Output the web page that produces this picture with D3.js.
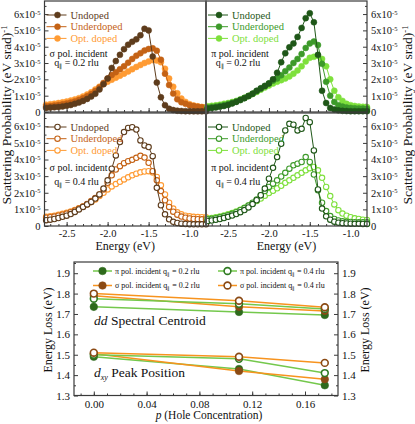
<!DOCTYPE html>
<html>
<head>
<meta charset="utf-8">
<script src="https://cdn.jsdelivr.net/npm/d3@7"></script>
<style>
body{margin:0;background:#fff;}
svg text{font-family:"Liberation Serif","Times New Roman",serif;}
</style>
</head>
<body>
<script>
// energy grid of the spectra (eV)
var energy = [-2.75,-2.70,-2.65,-2.60,-2.55,-2.50,-2.45,-2.40,-2.35,-2.30,-2.25,-2.20,-2.15,-2.10,-2.05,-2.00,-1.95,-1.90,-1.85,-1.80,
              -1.75,-1.70,-1.65,-1.60,-1.55,-1.50,-1.45,-1.40,-1.35,-1.30,-1.25,-1.20,-1.15,-1.10,-1.05,-1.00,-0.95,-0.90,-0.85,-0.80];

// scattering probability, units of 1e-5 (eV srad)^-1
var sigmaQ02Undoped = [0.25,0.27,0.29,0.31,0.34,0.38,0.43,0.50,0.58,0.68,0.80,0.95,1.12,1.38,1.70,2.05,2.70,3.12,3.50,3.85,
                       4.12,4.30,4.45,4.70,5.10,5.00,3.40,1.80,0.90,0.42,0.20,0.12,0.08,0.06,0.05,0.05,0.04,0.04,0.04,0.04];
var sigmaQ02Under   = [0.35,0.37,0.40,0.43,0.47,0.52,0.58,0.65,0.74,0.84,0.96,1.10,1.28,1.50,1.78,2.05,2.27,2.44,2.62,2.80,
                       3.02,3.25,3.45,3.60,3.76,3.86,3.90,3.75,3.20,2.35,1.65,1.13,0.78,0.60,0.50,0.42,0.36,0.32,0.29,0.27];
var sigmaQ02Opt     = [0.45,0.48,0.51,0.55,0.59,0.64,0.70,0.77,0.85,0.95,1.07,1.21,1.38,1.55,1.72,1.86,1.98,2.10,2.22,2.35,
                       2.48,2.62,2.76,2.88,3.00,3.10,3.18,3.15,3.05,2.65,2.05,1.55,1.15,0.82,0.62,0.48,0.40,0.35,0.31,0.29];

var piQ02Undoped = [0.22,0.25,0.28,0.32,0.37,0.43,0.52,0.62,0.73,0.85,0.98,1.12,1.30,1.45,1.60,1.75,2.00,2.40,3.05,3.60,
                    3.96,4.20,4.60,5.15,5.75,6.05,5.50,3.50,1.30,0.55,0.25,0.15,0.10,0.07,0.06,0.05,0.05,0.05,0.05,0.05];
var piQ02Under   = [0.28,0.31,0.34,0.38,0.43,0.49,0.56,0.65,0.75,0.86,0.98,1.12,1.27,1.42,1.58,1.75,1.92,2.05,2.25,2.50,
                    2.72,3.00,3.25,3.55,3.92,4.20,4.32,4.10,2.95,1.85,1.00,0.62,0.42,0.33,0.28,0.25,0.23,0.22,0.21,0.20];
var piQ02Opt     = [0.35,0.38,0.41,0.45,0.50,0.55,0.61,0.68,0.77,0.87,0.98,1.10,1.23,1.37,1.50,1.62,1.74,1.85,1.95,2.05,
                    2.18,2.35,2.55,2.80,3.10,3.32,3.38,3.45,3.25,2.80,2.00,1.30,0.90,0.68,0.50,0.42,0.37,0.34,0.32,0.30];

var sigmaQ04Undoped = [0.35,0.38,0.42,0.48,0.55,0.62,0.72,0.85,1.00,1.15,1.30,1.45,1.65,1.90,2.25,2.75,3.45,4.25,5.05,5.65,
                       5.90,5.95,5.80,5.15,4.85,4.75,4.20,2.30,1.25,0.70,0.40,0.25,0.18,0.14,0.12,0.11,0.10,0.10,0.10,0.10];
var sigmaQ04Under   = [0.50,0.53,0.57,0.62,0.68,0.75,0.83,0.93,1.05,1.18,1.33,1.50,1.68,1.90,2.20,2.60,3.05,3.40,3.60,3.78,
                       3.90,3.98,4.10,4.22,4.12,3.80,3.30,2.75,2.10,1.55,1.15,0.86,0.68,0.57,0.50,0.45,0.42,0.41,0.40,0.40];
var sigmaQ04Opt     = [0.55,0.58,0.62,0.67,0.73,0.80,0.88,0.97,1.07,1.18,1.30,1.45,1.60,1.80,2.00,2.20,2.38,2.52,2.66,2.80,
                       2.93,3.05,3.15,3.23,3.28,3.30,3.22,2.95,2.45,1.90,1.40,1.05,0.82,0.70,0.62,0.58,0.55,0.54,0.53,0.52];

var piQ04Undoped = [0.30,0.33,0.37,0.42,0.48,0.55,0.63,0.72,0.83,0.96,1.12,1.32,1.55,1.85,2.25,2.85,3.50,4.15,4.95,5.75,
                    6.15,6.10,5.75,5.85,6.50,6.25,4.55,2.20,1.05,0.58,0.38,0.26,0.20,0.17,0.15,0.14,0.13,0.13,0.12,0.12];
var piQ04Under   = [0.40,0.43,0.47,0.52,0.58,0.65,0.73,0.83,0.95,1.08,1.23,1.40,1.60,1.85,2.10,2.35,2.55,2.75,2.98,3.20,
                    3.45,3.65,3.75,3.85,4.15,3.85,3.10,2.15,1.40,0.90,0.60,0.42,0.33,0.28,0.25,0.24,0.23,0.22,0.22,0.22];
var piQ04Opt     = [0.45,0.48,0.52,0.57,0.63,0.70,0.78,0.88,0.98,1.10,1.23,1.36,1.50,1.65,1.82,1.98,2.12,2.27,2.42,2.60,
                    2.75,2.90,3.05,3.20,3.35,3.48,3.55,3.35,2.90,2.35,1.80,1.30,0.95,0.75,0.62,0.53,0.46,0.42,0.38,0.36];

var sampleNames = ["Undoped","Underdoped","Opt. doped"];
var energyTicks = [-2.5,-2.0,-1.5,-1.0];
var probTicks = [0,1,2,3,4,5,6];

// lower chart: hole concentration vs energy loss
var doping = [0.00, 0.11, 0.175];
var centroidPiQ02    = [1.735, 1.71, 1.695];
var centroidSigmaQ02 = [1.79, 1.735, 1.715];
var centroidPiQ04    = [1.775, 1.75, 1.725];
var centroidSigmaQ04 = [1.80, 1.765, 1.733];
var peakPiQ02    = [1.49, 1.43, 1.35];
var peakSigmaQ02 = [1.505, 1.42, 1.38];
var peakPiQ04    = [1.50, 1.48, 1.41];
var peakSigmaQ04 = [1.51, 1.49, 1.46];
var dopingTicks = [0, 0.04, 0.08, 0.12, 0.16];
var lossTicks = [1.3,1.4,1.5,1.6,1.7,1.8,1.9];

var sigmaColors = ["#5e3c1c","#c46215","#ff9b33"];
var piColors = ["#1f5718","#3d9a2a","#7ee03c"];
var frameColor = "#3a3a3a";

var svg = d3.select("body").append("svg")
	.attr("width",415)
	.attr("height",424);

svg.append("rect").attr("width",415).attr("height",424).attr("fill","#fff");

function minorList(a,b,step){
	var out = [];
	for(var v=a; v<=b+1e-9; v+=step) out.push(+v.toFixed(4));
	return out;
}

function sciLabels(g){
	g.selectAll(".tick text").each(function(d){
		var t = d3.select(this);
		t.text(null);
		if(d===0){ t.text("0"); return; }
		t.append("tspan").text(d+"x10");
		t.append("tspan").attr("dy","-0.5em").attr("font-size","6.5px").text("-5");
	});
}

function addQ(text, before, q, size){
	text.append("tspan").text(before+"q");
	text.append("tspan").attr("dy",2).attr("font-size",(size*0.6)+"px").text("\u2225");
	text.append("tspan").attr("dy",-2).text(" = "+q+" rlu");
}

var panels = [
	{x:[44.5,206], y:[112,1],   pol:"\u03c3", q:"0.2", data:[sigmaQ02Undoped,sigmaQ02Under,sigmaQ02Opt], colors:sigmaColors, open:false, side:"left",  xlab:false, cap:[53,62.5]},
	{x:[206,367],  y:[112,1],   pol:"\u03c0", q:"0.2", data:[piQ02Undoped,piQ02Under,piQ02Opt],          colors:piColors,    open:false, side:"right", xlab:false, cap:[53,62.5]},
	{x:[44.5,206], y:[226,113], pol:"\u03c3", q:"0.4", data:[sigmaQ04Undoped,sigmaQ04Under,sigmaQ04Opt], colors:sigmaColors, open:true,  side:"left",  xlab:true,  cap:[167,181]},
	{x:[206,367],  y:[226,113], pol:"\u03c0", q:"0.4", data:[piQ04Undoped,piQ04Under,piQ04Opt],          colors:piColors,    open:true,  side:"right", xlab:true,  cap:[167,181]}
];

panels.forEach(function(p){
	var x = d3.scaleLinear().domain([-2.77,-0.80]).range(p.x);
	var y = d3.scaleLinear().domain([0,6.8]).range(p.y);
	var g = svg.append("g");

	// x ticks (inward)
	var xa = g.append("g").attr("transform","translate(0,"+p.y[0]+")")
		.call(d3.axisBottom(x).tickValues(energyTicks).tickSize(-4).tickPadding(4)
			.tickFormat(function(d){ return p.xlab ? d.toFixed(1) : ""; }));
	xa.select(".domain").remove();
	xa.selectAll("text").attr("font-size","10.5px").attr("fill","#111");
	var xm = g.append("g").attr("transform","translate(0,"+p.y[0]+")")
		.call(d3.axisBottom(x).tickValues(minorList(-2.7,-0.9,0.1)).tickSize(-2).tickFormat(""));
	xm.select(".domain").remove();

	// y ticks on the outer side
	var ax = p.side==="left" ? d3.axisLeft(y) : d3.axisRight(y);
	var ya = g.append("g").attr("transform","translate("+(p.side==="left"?p.x[0]:p.x[1])+",0)")
		.call(ax.tickValues(probTicks).tickSize(-4).tickPadding(4));
	ya.select(".domain").remove();
	ya.selectAll("text").attr("font-size","10.5px").attr("fill","#111");
	sciLabels(ya);
	var ax2 = p.side==="left" ? d3.axisLeft(y) : d3.axisRight(y);
	var ym = g.append("g").attr("transform","translate("+(p.side==="left"?p.x[0]:p.x[1])+",0)")
		.call(ax2.tickValues(minorList(0.5,6.5,1)).tickSize(-2).tickFormat(""));
	ym.select(".domain").remove();
	g.selectAll(".tick line").attr("stroke",frameColor);

	// spectra, opt doped first so undoped sits on top
	var line = d3.line().x(function(d,i){ return x(energy[i]); }).y(function(d){ return y(d); });
	[2,1,0].forEach(function(k){
		g.append("path").datum(p.data[k])
			.attr("d",line).attr("fill","none")
			.attr("stroke",p.colors[k]).attr("stroke-width",1);
		g.selectAll("circle.s"+k)
			.data(p.data[k])
			.enter().append("circle")
				.attr("class","s"+k)
				.attr("cx",function(d,i){ return x(energy[i]); })
				.attr("cy",function(d){ return y(d); })
				.attr("r",p.open ? 2.7 : 3.0)
				.attr("fill",p.open ? "#fff" : p.colors[k])
				.attr("stroke",p.colors[k])
				.attr("stroke-width",p.open ? 1.1 : 0.5);
	});

	// legend
	var top = p.y[1];
	sampleNames.forEach(function(name,k){
		var ly = top + 14 + 11.7*k;
		g.append("line").attr("x1",p.x[0]+2).attr("x2",p.x[0]+22).attr("y1",ly).attr("y2",ly)
			.attr("stroke",p.colors[k]).attr("stroke-width",1);
		g.append("circle").attr("cx",p.x[0]+13).attr("cy",ly).attr("r",p.open?2.7:3.0)
			.attr("fill",p.open?"#fff":p.colors[k]).attr("stroke",p.colors[k]).attr("stroke-width",p.open?1.1:0.5);
		g.append("text").attr("x",p.x[0]+26).attr("y",ly).attr("dy","0.35em")
			.attr("font-size","10.5px").attr("fill",p.colors[k]).text(name);
	});
	g.append("text").attr("x",p.x[0]+34).attr("y",p.cap[0]).attr("dy","0.35em")
		.attr("text-anchor","middle").attr("font-size","10px").attr("fill","#111")
		.text(p.pol+" pol. incident");
	var qt = g.append("text").attr("x",p.x[0]+32).attr("y",p.cap[1]).attr("dy","0.35em")
		.attr("text-anchor","middle").attr("font-size","10px").attr("fill","#111");
	addQ(qt,"",p.q,10);

	g.append("rect").attr("x",p.x[0]).attr("y",p.y[1]).attr("width",p.x[1]-p.x[0]).attr("height",p.y[0]-p.y[1])
		.attr("fill","none").attr("stroke",frameColor).attr("stroke-width",1.2);

	if(p.xlab){
		g.append("text").attr("x",(p.x[0]+p.x[1])/2).attr("y",250)
			.attr("text-anchor","middle").attr("font-size","12px").attr("fill","#111").text("Energy (eV)");
	}
});

// divider between sigma and pi panels
svg.append("line").attr("x1",206).attr("x2",206).attr("y1",1).attr("y2",226)
	.attr("stroke","#555").attr("stroke-width",2);

// y titles of the spectra
[[11,115],[412,115]].forEach(function(pos){
	var t = svg.append("text")
		.attr("transform","translate("+pos[0]+","+pos[1]+") rotate(-90)")
		.attr("text-anchor","middle").attr("font-size","13.5px").attr("fill","#111");
	t.append("tspan").text("Scattering Probability (eV srad)");
	t.append("tspan").attr("dy","-0.45em").attr("font-size","8.5px").text("-1");
});

// ---- lower chart ----
var bx = d3.scaleLinear().domain([-0.015,0.185]).range([74,338]);
var by = d3.scaleLinear().domain([1.3,1.955]).range([395.5,262]);
var b = svg.append("g");

var bxa = b.append("g").attr("transform","translate(0,395.5)")
	.call(d3.axisBottom(bx).tickValues(dopingTicks).tickSize(-4).tickPadding(5)
		.tickFormat(function(d){ return d.toFixed(2); }));
bxa.select(".domain").remove();
var bxm = b.append("g").attr("transform","translate(0,395.5)")
	.call(d3.axisBottom(bx).tickValues(minorList(-0.01,0.18,0.01)).tickSize(-2).tickFormat(""));
bxm.select(".domain").remove();

var bya = b.append("g").attr("transform","translate(74,0)")
	.call(d3.axisLeft(by).tickValues(lossTicks).tickSize(-4).tickPadding(4)
		.tickFormat(function(d){ return d.toFixed(1); }));
bya.select(".domain").remove();
var byr = b.append("g").attr("transform","translate(338,0)")
	.call(d3.axisRight(by).tickValues(lossTicks).tickSize(-4).tickPadding(4)
		.tickFormat(function(d){ return d.toFixed(1); }));
byr.select(".domain").remove();
b.selectAll("text").attr("font-size","11px").attr("fill","#111");
[74,338].forEach(function(xx){
	var am = xx===74 ? d3.axisLeft(by) : d3.axisRight(by);
	var m = b.append("g").attr("transform","translate("+xx+",0)")
		.call(am.tickValues(minorList(1.35,1.95,0.1)).tickSize(-2).tickFormat(""));
	m.select(".domain").remove();
});
b.selectAll(".tick line").attr("stroke",frameColor);

var piLine = "#74c84c", sigmaLine = "#f7931e";
var piFill = "#2e6a1c", sigmaFill = "#8b4a14";
var lossSeries = [
	{vals:centroidPiQ02,    line:piLine,    col:piFill,    open:false},
	{vals:centroidSigmaQ02, line:sigmaLine, col:sigmaFill, open:false},
	{vals:centroidPiQ04,    line:piLine,    col:"#2f7a22", open:true},
	{vals:centroidSigmaQ04, line:sigmaLine, col:sigmaFill, open:true},
	{vals:peakPiQ02,    line:piLine,    col:piFill,    open:false},
	{vals:peakSigmaQ02, line:sigmaLine, col:sigmaFill, open:false},
	{vals:peakPiQ04,    line:piLine,    col:"#2f7a22", open:true},
	{vals:peakSigmaQ04, line:sigmaLine, col:sigmaFill, open:true}
];
var lossLine = d3.line().x(function(d,i){ return bx(doping[i]); }).y(function(d){ return by(d); });
lossSeries.forEach(function(s){
	b.append("path").datum(s.vals).attr("d",lossLine)
		.attr("fill","none").attr("stroke",s.line).attr("stroke-width",1.5);
});
lossSeries.forEach(function(s,k){
	b.selectAll("circle.l"+k)
		.data(s.vals)
		.enter().append("circle")
			.attr("class","l"+k)
			.attr("cx",function(d,i){ return bx(doping[i]); })
			.attr("cy",function(d){ return by(d); })
			.attr("r",s.open?3.4:3.8)
			.attr("fill",s.open?"#fff":s.col)
			.attr("stroke",s.col)
			.attr("stroke-width",s.open?1.6:0.5);
});

// legend of lower chart
var legendRows = [
	{x:93,  y:271, s:lossSeries[0], pol:"\u03c0", q:"0.2"},
	{x:93,  y:285.5, s:lossSeries[1], pol:"\u03c3", q:"0.2"},
	{x:218, y:271, s:lossSeries[2], pol:"\u03c0", q:"0.4"},
	{x:218, y:285.5, s:lossSeries[3], pol:"\u03c3", q:"0.4"}
];
legendRows.forEach(function(r){
	b.append("line").attr("x1",r.x).attr("x2",r.x+19).attr("y1",r.y).attr("y2",r.y)
		.attr("stroke",r.s.line).attr("stroke-width",1.5);
	b.append("circle").attr("cx",r.x+9.5).attr("cy",r.y).attr("r",r.s.open?3.4:3.8)
		.attr("fill",r.s.open?"#fff":r.s.col).attr("stroke",r.s.col).attr("stroke-width",r.s.open?1.6:0.5);
	var t = b.append("text").attr("x",r.x+22).attr("y",r.y).attr("dy","0.35em")
		.attr("font-size","8px").attr("fill","#111");
	addQ(t, r.pol+" pol. incident ", r.q, 8);
});

var cen = b.append("text").attr("x",94).attr("y",325).attr("font-size","13.5px").attr("fill","#111");
cen.append("tspan").attr("font-style","italic").text("dd");
cen.append("tspan").text(" Spectral Centroid");
var pk = b.append("text").attr("x",94).attr("y",377).attr("font-size","13.5px").attr("fill","#111");
pk.append("tspan").attr("font-style","italic").text("d");
pk.append("tspan").attr("font-style","italic").attr("font-size","8px").attr("dy",3).text("xy");
pk.append("tspan").attr("dy",-3).text(" Peak Position");

b.append("rect").attr("x",74).attr("y",262).attr("width",264).attr("height",133.5)
	.attr("fill","none").attr("stroke",frameColor).attr("stroke-width",1.2);

var xt = b.append("text").attr("x",209).attr("y",419).attr("text-anchor","middle")
	.attr("font-size","11.5px").attr("fill","#111");
xt.append("tspan").attr("font-style","italic").text("p");
xt.append("tspan").text(" (Hole Concentration)");

[[52,330],[369,330]].forEach(function(pos){
	b.append("text").attr("transform","translate("+pos[0]+","+pos[1]+") rotate(-90)")
		.attr("text-anchor","middle").attr("font-size","12px").attr("fill","#111")
		.text("Energy Loss (eV)");
});
</script>
</body>
</html>
